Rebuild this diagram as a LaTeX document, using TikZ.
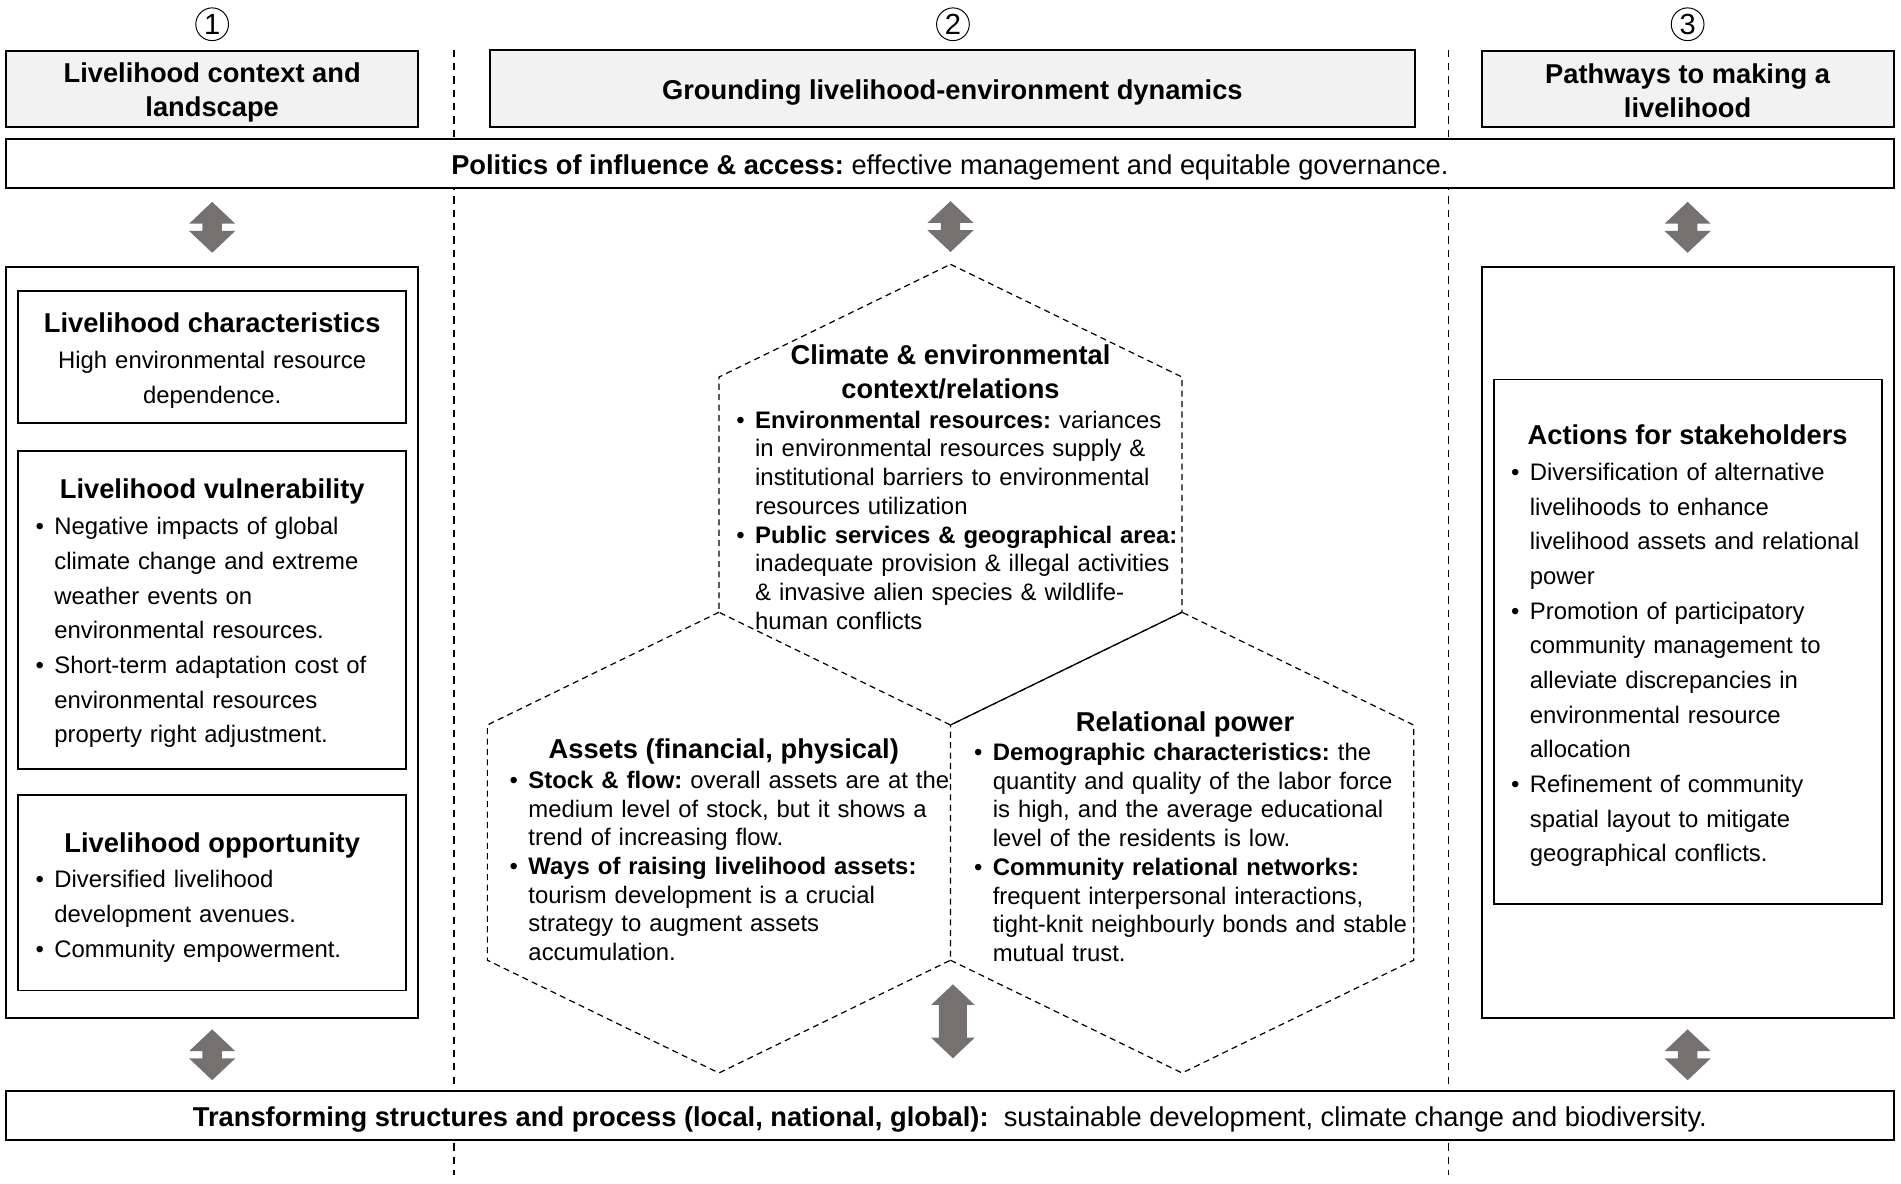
\documentclass[tikz,border=0pt]{standalone}
\usepackage{fontspec}
\setmainfont{Liberation Sans}
\usetikzlibrary{positioning,calc}
\definecolor{arrowgray}{HTML}{767171}
\definecolor{headgray}{HTML}{F2F2F2}
\frenchspacing
\newcommand{\headsize}{\fontsize{11.25}{14}\selectfont}
\newcommand{\boxsize}{\fontsize{9.85}{14.3}\selectfont}
\newcommand{\hexsize}{\fontsize{9.85}{11.85}\selectfont}
\newcommand{\firstitm}{\noindent\hangindent=7.75pt\makebox[7.75pt][l]{\textbullet}}
\newcommand{\itm}{\par\firstitm}
\tikzset{
  frame/.style={draw, line width=0.8pt, inner sep=0pt},
  headbox/.style={frame, fill=headgray, minimum height=31.5pt},
  headtext/.style={inner sep=0pt, align=center, font=\headsize\bfseries},
  bar/.style={frame, fill=white, minimum width=778.5pt, minimum height=20pt, font=\headsize,
    execute at begin node={\rule{0pt}{11.2pt}}},
  numcircle/.style={circle, draw, line width=0.4pt, minimum size=13.5pt, inner sep=0pt, font=\fontsize{12}{12}\selectfont},
  title/.style={inner sep=0pt, anchor=north, align=center, font=\headsize\bfseries},
  boxtext/.style={inner sep=0pt, anchor=north west, text width=170pt, align=left, font=\boxsize},
  hextext/.style={inner sep=0pt, anchor=north west, text width=200pt, align=left, font=\hexsize},
  hexline/.style={dash pattern=on 2.5pt off 1.8pt, line width=0.5pt},
  colline/.style={dash pattern=on 3pt off 2.5pt, line width=0.5pt},
  updown/.pic={\fill[arrowgray] (0,-21) -- (19,-3) -- (8,-3) -- (8,3) -- (19,3) -- (0,21)
    -- (-19,3) -- (-8,3) -- (-8,-3) -- (-19,-3) -- cycle;},
  updownlong/.pic={\fill[arrowgray] (0,-30.5) -- (18,-13.5) -- (11.5,-13.5) -- (11.5,13.5) -- (18,13.5) -- (0,30.5)
    -- (-18,13.5) -- (-11.5,13.5) -- (-11.5,-13.5) -- (-18,-13.5) -- cycle;}
}
\begin{document}
\begin{tikzpicture}[x=0.5pt, y=-0.5pt]
\useasboundingbox (0,0) rectangle (1568,976);

% column numbers and headers
\foreach \n/\x in {1/175, 2/786, 3/1392}
  \node[numcircle] (num\n) at (\x,20) {\n};
\node[headbox, minimum width=170pt] (head1) at (175,73.5) {};
\node[headbox, minimum width=381.5pt] (head2) at (785.5,73) {};
\node[headbox, minimum width=170pt] (head3) at (1392,73.5) {};
\node[headtext] (head1text) at ($(head1.center)+(0,3)$) {Livelihood context and\\landscape};
\node[headtext] (head2text) at ($(head2.center)+(0,3)$) {Grounding livelihood-environment dynamics};
\node[headtext] (head3text) at ($(head3.center)+(0,1)$) {Pathways to making a\\livelihood};

% column separators
\coordinate (sep1) at ($(head1.north east)!0.5!(head2.north west)$);
\coordinate (sep2) at ($(head2.north east)!0.5!(head3.north west)$);
\draw[colline] (sep1) -- ++(0,928);
\draw[colline] (sep2) -- ++(0,928);

% bars
\node[bar] (politics) at (783.5,135) {\textbf{Politics of influence \& access:} effective management and equitable governance.};
\node[bar] (transform) at (783.5,920) {\textbf{Transforming structures and process (local, national, global):}\ \ sustainable development, climate change and biodiversity.};

% column 1
\node[frame, minimum width=170pt, minimum height=310pt] (context) at (175,530) {};
\node[frame, minimum width=160pt, minimum height=54.5pt] (charact) at (175,294.5) {};
\node[frame, minimum width=160pt, minimum height=131pt] (vulner) at (175,503) {};
\node[frame, minimum width=160pt, minimum height=80.5pt] (oppor) at (175,736.5) {};

\node[title] (characttitle) at (175,257.3) {Livelihood characteristics};
\node[boxtext, anchor=north, align=center] (characttext) at (175,289.5) {High environmental resource\\dependence.};

\node[title] (vulnertitle) at (175,394.3) {Livelihood vulnerability};
\node[boxtext] (vulnertext) at (29,426.5) {%
  \firstitm Negative impacts of global\newline climate change and extreme\newline weather events on\newline environmental resources.
  \itm Short-term adaptation cost of\newline environmental resources\newline property right adjustment.\par};

\node[title] (opportitle) at (175,686.3) {Livelihood opportunity};
\node[boxtext] (opportext) at (29,717.5) {%
  \firstitm Diversified livelihood\newline development avenues.
  \itm Community empowerment.\par};

% column 2: hexagons
\draw[hexline] (784,218) -- (975,311) -- (975,505) -- (784,598) -- (593,505) -- (593,311) -- cycle;
\draw[hexline] (593,505) -- (402,598) -- (402,792) -- (593,885) -- (784,792) -- (784,598);
\draw[hexline] (784,792) -- (975,885) -- (1166,792) -- (1166,598) -- (975,505);
\draw[line width=0.5pt] (975,505) -- (784,598);

\node[title] (climatetitle) at (784,284.3) {Climate \& environmental\\context/relations};
\node[hextext] (climatetext) at (607,338.5) {%
  \firstitm \textbf{Environmental resources:} variances\newline in environmental resources supply \&\newline institutional barriers to environmental\newline resources utilization
  \itm \textbf{Public services \& geographical area:}\newline inadequate provision \& illegal activities\newline \& invasive alien species \& wildlife-\newline human conflicts\par};

\node[title] (assettitle) at (597,609.3) {Assets (financial, physical)};
\node[hextext] (assettext) at (420,635.5) {%
  \firstitm \textbf{Stock \& flow:} overall assets are at the\newline medium level of stock, but it shows a\newline trend of increasing flow.
  \itm \textbf{Ways of raising livelihood assets:}\newline tourism development is a crucial\newline strategy to augment assets\newline accumulation.\par};

\node[title] (powertitle) at (977.5,586.3) {Relational power};
\node[hextext] (powertext) at (803,612.5) {%
  \firstitm \textbf{Demographic characteristics:} the\newline quantity and quality of the labor force\newline is high, and the average educational\newline level of the residents is low.
  \itm \textbf{Community relational networks:}\newline frequent interpersonal interactions,\newline tight-knit neighbourly bonds and stable\newline mutual trust.\par};

\coordinate (hextop) at (784,218);
\coordinate (hexmid) at (786,792);

% column 3
\node[frame, minimum width=170pt, minimum height=310pt] (pathway) at (1392,530) {};
\node[frame, minimum width=160pt, minimum height=216.5pt] (actions) at (1392,529.5) {};
\node[title] (actiontitle) at (1392,350.3) {Actions for stakeholders};
\node[boxtext] (actiontext) at (1246,381.5) {%
  \firstitm Diversification of alternative\newline livelihoods to enhance\newline livelihood assets and relational\newline power
  \itm Promotion of participatory\newline community management to\newline alleviate discrepancies in\newline environmental resource\newline allocation
  \itm Refinement of community\newline spatial layout to mitigate\newline geographical conflicts.\par};

% arrows
\pic at ($(politics.south -| context.north)!0.5!(context.north)$) {updown};
\pic at ($(politics.south -| hextop)!0.5!(hextop)$) {updown};
\pic at ($(politics.south -| pathway.north)!0.5!(pathway.north)$) {updown};
\pic at ($(context.south)!0.5!(transform.north -| context.south)$) {updown};
\pic at ($(pathway.south)!0.5!(transform.north -| pathway.south)$) {updown};
\pic at ($(hexmid)!0.47!(transform.north -| hexmid)$) {updownlong};
\end{tikzpicture}
\end{document}
